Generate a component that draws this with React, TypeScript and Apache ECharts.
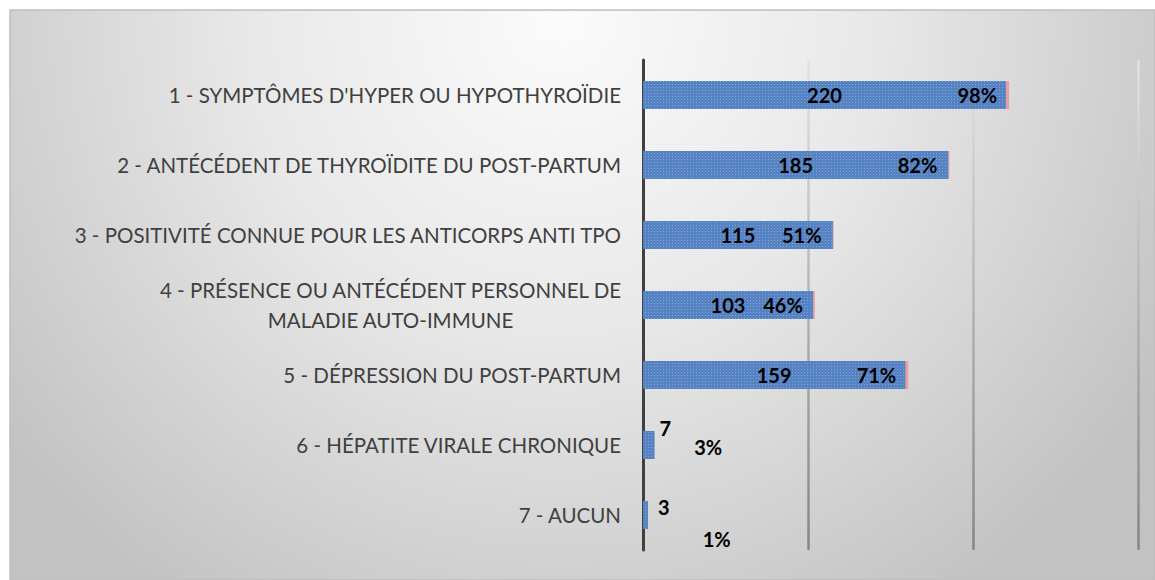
import React, { useEffect, useRef } from "react";
import * as echarts from "echarts";

const categories = [
  "1 - SYMPTÔMES D'HYPER OU HYPOTHYROÏDIE",
  "2 - ANTÉCÉDENT DE THYROÏDITE DU POST-PARTUM",
  "3 - POSITIVITÉ CONNUE POUR LES ANTICORPS ANTI TPO",
  "4 - PRÉSENCE OU ANTÉCÉDENT PERSONNEL DE\nMALADIE AUTO-IMMUNE",
  "5 - DÉPRESSION DU POST-PARTUM",
  "6 - HÉPATITE VIRALE CHRONIQUE",
  "7 - AUCUN",
];
const counts = [220, 185, 115, 103, 159, 7, 3];
const percents = [98, 82, 51, 46, 71, 3, 1];

const FONT = "Lato, 'Open Sans', sans-serif";

export default function App() {
  const ref = useRef<HTMLDivElement>(null);
  useEffect(() => {
    if (!ref.current) return;
    const chart = echarts.init(ref.current, undefined, { renderer: "svg" });

    const smallCountLabels: Record<number, any> = {
      5: { position: "right", distance: 5, offset: [0, -17] },
      6: { position: "right", distance: 10, offset: [0, -8] },
    };
    const smallPctLabels: Record<number, any> = {
      5: { position: "right", distance: 40, offset: [0, 2] },
      6: { position: "right", distance: 56, offset: [0, 24] },
    };

    const option: any = {
      animation: false,
      backgroundColor: "#ffffff",
      graphic: [
        {
          type: "rect",
          z: -10,
          silent: true,
          shape: { x: 10, y: 10, width: 1145, height: 570 },
          style: {
            fill: new echarts.graphic.RadialGradient(
              560,
              20,
              700,
              [
                { offset: 0, color: "#fbfbfb" },
                { offset: 0.45, color: "#e8e8e8" },
                { offset: 1, color: "#c2c2c2" },
              ],
              true
            ),
            stroke: "#bfbfbf",
            lineWidth: 1.5,
          },
        },
      ],
      grid: { left: 643, right: 17, top: 60, bottom: 30, containLabel: false },
      xAxis: [
        {
          type: "value",
          min: 0,
          max: 300,
          interval: 100,
          axisLabel: { show: false },
          axisLine: { show: false },
          axisTick: { show: false },
          splitLine: {
            show: true,
            lineStyle: {
              width: 2.5,
              color: new echarts.graphic.LinearGradient(
                0,
                60,
                0,
                550,
                [
                  { offset: 0, color: "#e2e2e2" },
                  { offset: 1, color: "#858585" },
                ],
                true
              ),
            },
          },
        },
        {
          type: "value",
          min: 0,
          max: 132.5,
          show: false,
          splitLine: { show: false },
        },
      ],
      yAxis: {
        type: "category",
        inverse: true,
        data: categories,
        axisLine: { show: true, lineStyle: { color: "#404040", width: 3 } },
        axisTick: { show: false },
        axisLabel: {
          margin: 22,
          fontSize: 20.5,
          fontFamily: FONT,
          color: "#404040",
          lineHeight: 30,
          formatter: (v: string) =>
            v.includes("\n")
              ? v
                  .split("\n")
                  .map((l) => `{c|${l}}`)
                  .join("\n")
              : v,
          rich: {
            c: {
              width: 461,
              align: "center",
              fontSize: 20.5,
              fontFamily: FONT,
              color: "#404040",
              lineHeight: 30,
            },
          },
        },
      },
      series: [
        {
          name: "pct-bar",
          type: "bar",
          xAxisIndex: 1,
          barWidth: 28,
          barGap: "-100%",
          z: 1,
          silent: true,
          itemStyle: { color: "#e6a0a0" },
          data: percents,
        },
        {
          name: "Effectif",
          type: "bar",
          xAxisIndex: 0,
          barWidth: 28,
          barGap: "-100%",
          z: 2,
          itemStyle: {
            color: "#5482c3",
            decal: {
              symbol: "rect",
              symbolSize: 1,
              dashArrayX: [1, 2],
              dashArrayY: [1, 2],
              color: "rgba(255,255,255,0.28)",
              rotation: 0,
            },
          },
          label: {
            show: true,
            position: "inside",
            fontFamily: FONT,
            fontWeight: "bold",
            fontSize: 20,
            color: "#000000",
          },
          data: counts.map((v, i) =>
            smallCountLabels[i] ? { value: v, label: smallCountLabels[i] } : v
          ),
        },
        {
          name: "Pourcentage",
          type: "bar",
          xAxisIndex: 1,
          barWidth: 28,
          barGap: "-100%",
          z: 3,
          itemStyle: { color: "rgba(0,0,0,0)" },
          label: {
            show: true,
            position: "insideRight",
            distance: 12,
            fontFamily: FONT,
            fontWeight: "bold",
            fontSize: 20,
            color: "#000000",
            formatter: (p: any) => `${p.value}%`,
          },
          data: percents.map((v, i) =>
            smallPctLabels[i] ? { value: v, label: smallPctLabels[i] } : v
          ),
        },
      ],
    };
    chart.setOption(option);
    return () => chart.dispose();
  }, []);
  return (
    <div
      ref={ref}
      style={{ position: "fixed", left: 0, top: 0, width: 1155, height: 580 }}
    />
  );
}
